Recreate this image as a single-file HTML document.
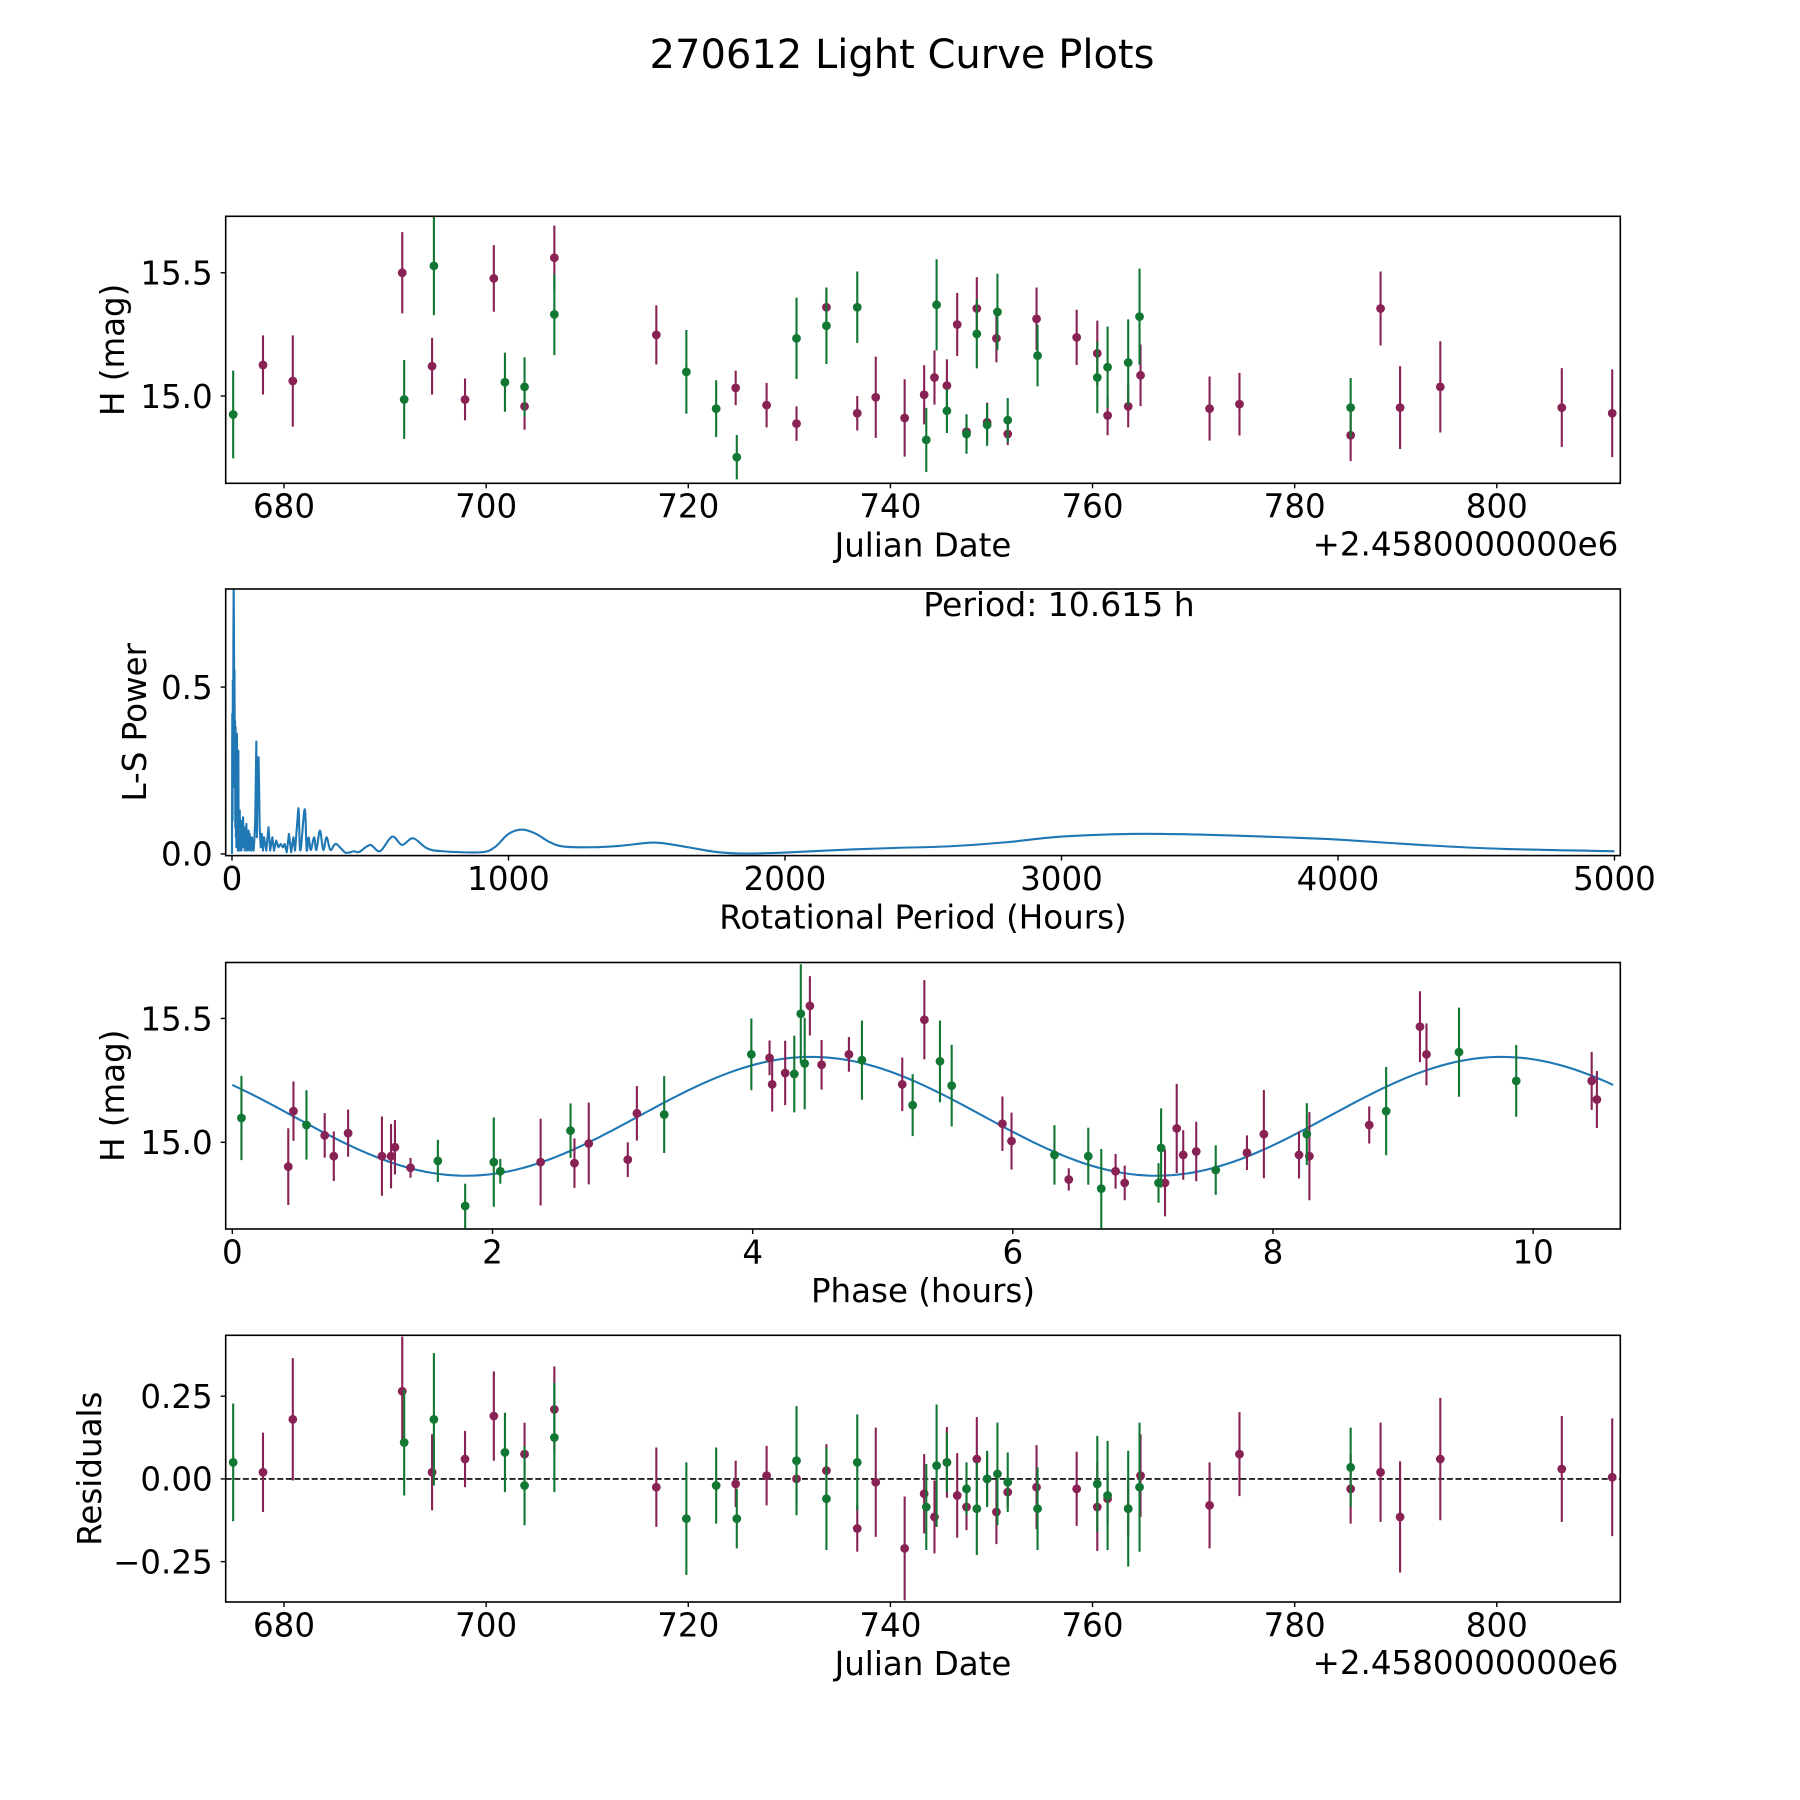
<!DOCTYPE html>
<html><head><meta charset="utf-8"><title>270612 Light Curve Plots</title>
<style>
html,body{margin:0;padding:0;background:#fff;}
svg{display:block;font-family:"DejaVu Sans","Liberation Sans",sans-serif;}
</style></head>
<body>
<svg id="fig" xmlns="http://www.w3.org/2000/svg" width="1800" height="1800" viewBox="0 0 1800 1800">
<rect x="0" y="0" width="1800" height="1800" fill="#fff"/>
<text x="902" y="68" font-size="40" text-anchor="middle">270612 Light Curve Plots</text>
</svg>
<script>
// ---- data: green (filter 1) observations ----
const gDate = [674.97,691.89,694.83,701.86,703.80,706.75,719.81,722.76,724.80,730.71,733.67,736.72,743.55,744.57,745.59,747.53,748.55,749.57,750.59,751.61,754.56,760.47,761.49,763.53,764.65,785.54];
const gMag  = [14.925,14.986,15.528,15.056,15.037,15.331,15.098,14.949,14.752,15.234,15.285,15.36,14.822,15.37,14.94,14.846,15.252,14.883,15.341,14.902,15.164,15.075,15.117,15.136,15.322,14.953];
const gErr  = [0.178,0.16,0.2,0.12,0.12,0.165,0.17,0.115,0.09,0.165,0.155,0.145,0.13,0.185,0.09,0.08,0.14,0.085,0.155,0.09,0.125,0.145,0.165,0.175,0.195,0.12];
const gRes  = [0.05,0.11,0.18,0.08,-0.02,0.125,-0.12,-0.02,-0.12,0.055,-0.06,0.05,-0.085,0.04,0.05,-0.03,-0.09,0.0,0.015,-0.01,-0.09,-0.015,-0.05,-0.09,-0.025,0.035];
// ---- data: purple (filter 2) observations ----
const pDate = [677.92,680.87,691.70,694.65,697.91,700.76,703.80,706.75,716.84,724.69,727.75,730.71,733.67,736.72,738.55,741.41,743.34,744.36,745.59,746.61,747.53,748.55,749.57,750.49,751.61,754.46,758.43,760.47,761.49,763.53,764.75,771.58,774.54,785.54,788.50,790.43,794.41,806.43,811.42];
const pMag  = [15.126,15.061,15.5,15.121,14.986,15.477,14.958,15.561,15.248,15.033,14.963,14.888,15.36,14.93,14.995,14.911,15.005,15.075,15.042,15.29,14.855,15.355,14.893,15.234,14.846,15.313,15.238,15.173,14.921,14.958,15.084,14.949,14.967,14.841,15.355,14.953,15.037,14.953,14.93];
const pErr  = [0.12,0.185,0.165,0.115,0.085,0.135,0.095,0.13,0.12,0.07,0.09,0.07,0.08,0.07,0.165,0.157,0.12,0.11,0.107,0.128,0.07,0.127,0.08,0.097,0.045,0.127,0.112,0.133,0.08,0.085,0.125,0.13,0.127,0.105,0.15,0.168,0.185,0.16,0.178];
const pRes  = [0.02,0.18,0.265,0.02,0.06,0.19,0.075,0.21,-0.025,-0.015,0.01,0.0,0.025,-0.15,-0.01,-0.21,-0.045,-0.115,0.05,-0.05,-0.085,0.06,0.0,-0.1,-0.04,-0.025,-0.03,-0.085,-0.06,-0.09,0.01,-0.08,0.075,-0.03,0.02,-0.115,0.06,0.03,0.005];
// ---- phase-folded data ----
const gPhase = [0.07,0.57,1.58,1.79,2.01,2.06,2.60,3.32,3.99,4.32,4.37,4.40,4.84,5.23,5.44,5.53,6.32,6.58,6.68,7.12,7.14,7.56,8.26,8.87,9.43,9.87];
const gPMag  = [15.098,15.07,14.925,14.743,14.92,14.883,15.047,15.112,15.355,15.276,15.519,15.318,15.332,15.15,15.327,15.229,14.949,14.944,14.813,14.836,14.977,14.888,15.033,15.126,15.364,15.248];
const gPErr  = [0.17,0.14,0.085,0.09,0.18,0.05,0.11,0.155,0.145,0.155,0.2,0.185,0.16,0.125,0.165,0.165,0.12,0.115,0.16,0.08,0.16,0.1,0.125,0.178,0.18,0.145];
const pPhase = [0.43,0.47,0.71,0.78,0.89,1.15,1.22,1.25,1.37,2.37,2.63,2.74,3.04,3.11,4.13,4.15,4.25,4.44,4.53,4.74,5.15,5.32,5.92,5.99,6.43,6.79,6.86,7.17,7.26,7.31,7.41,7.80,7.93,8.20,8.28,8.74,9.13,9.18,10.45,10.49];
const pPMag  = [14.902,15.126,15.028,14.944,15.037,14.944,14.944,14.98,14.897,14.92,14.916,14.995,14.93,15.117,15.341,15.234,15.28,15.551,15.313,15.355,15.234,15.495,15.075,15.005,14.85,14.883,14.836,14.836,15.056,14.949,14.963,14.958,15.033,14.949,14.944,15.07,15.467,15.355,15.248,15.173];
const pPErr  = [0.155,0.12,0.09,0.1,0.095,0.16,0.13,0.11,0.04,0.175,0.1,0.165,0.07,0.11,0.07,0.11,0.13,0.12,0.1,0.07,0.108,0.16,0.11,0.115,0.045,0.07,0.07,0.135,0.18,0.1,0.12,0.07,0.178,0.095,0.178,0.075,0.143,0.125,0.117,0.115];
// ---- fitted model (mean, amplitude, peak phase, harmonic period, full period) ----
const modelParams = [15.105,0.24,4.45,5.3075,10.615];
// ---- Lomb-Scargle periodogram ----
const lsPeriod = [0,1,2,3,4,5,6,7,8,9,10,11,12,13,14,15,16,17,18,19,20,21,22,23,24,25,27,28,30,32,34,36,38,40,42,44,46,48,50,52,54,56,58,60,62,64,66,68,70,72,74,76,78,80,84,86,88,90,92,96,98,100,104,108,112,116,124,132,138,146,152,160,168,176,184,190,198,206,214,222,228,240,247,263,270,277,285,297,305,318,330,342,356,376,410,440,460,500,535,579,615,655,705,760,900,950,1000,1050,1100,1150,1200,1300,1400,1500,1550,1650,1750,1850,2000,2200,2400,2600,2800,3000,3250,3500,3800,4000,4300,4600,5000];
const lsPower  = [0.0,0.42,0.1,0.52,0.2,0.65,0.8,0.68,0.45,0.55,0.3,0.4,0.08,0.38,0.05,0.22,0.02,0.14,0.36,0.05,0.14,0.01,0.12,0.31,0.03,0.1,0.01,0.13,0.03,0.1,0.01,0.07,0.02,0.11,0.03,0.08,0.01,0.06,0.02,0.09,0.01,0.05,0.02,0.07,0.01,0.06,0.02,0.04,0.01,0.05,0.02,0.04,0.01,0.03,0.1,0.22,0.337,0.05,0.2,0.29,0.2,0.08,0.02,0.06,0.01,0.05,0.01,0.08,0.01,0.05,0.01,0.04,0.02,0.03,0.02,0.03,0.005,0.06,0.005,0.05,0.01,0.137,0.01,0.134,0.012,0.05,0.012,0.05,0.012,0.07,0.012,0.05,0.012,0.03,0.004,0.008,0.006,0.027,0.008,0.052,0.027,0.047,0.017,0.008,0.005,0.02,0.06,0.073,0.06,0.035,0.022,0.02,0.024,0.033,0.033,0.02,0.006,0.001,0.004,0.012,0.018,0.023,0.035,0.052,0.06,0.058,0.05,0.043,0.027,0.015,0.008];
// ---- ticks ----
const dateTicks = [680,700,720,740,760,780,800];
const magTicks = [15.0,15.5];
const magTickLabels = ["15.0","15.5"];
const periodTicks = [0,1000,2000,3000,4000,5000];
const powerTicks = [0.0,0.5];
const powerTickLabels = ["0.0","0.5"];
const phaseTicks = [0,2,4,6,8,10];
const resTicks = [-0.25,0,0.25];
const resTickLabels = ["\u22120.25","0.00","0.25"];

const NS = "http://www.w3.org/2000/svg";
const svg = document.getElementById('fig');
const GREEN = "#117733", PURPLE = "#882255", BLUE = "#1f77b4";
const FS = 32.5;
function mk(tag, attrs, parent){const e=document.createElementNS(NS,tag);for(const k in attrs)e.setAttribute(k,attrs[k]);(parent||svg).appendChild(e);return e;}
function scale(d0,d1,r0,r1){return v=>r0+(v-d0)/(d1-d0)*(r1-r0);}

const L=225.7, R=1620.3;
const panels=[
 {top:216.3,bot:483.3},{top:589,bot:855.6},{top:962.5,bot:1229},{top:1335.3,bot:1602}
];

function axes(idx, xdom, ydom, name){
  const p=panels[idx];
  const sx=scale(xdom[0],xdom[1],L,R), sy=scale(ydom[0],ydom[1],p.bot,p.top);
  const g=mk('g',{});
  
  
  const cid='clip'+idx;
  const cp=mk('clipPath',{id:cid},g);
  mk('rect',{x:L,y:p.top,width:R-L,height:p.bot-p.top},cp);
  const plot=mk('g',{'clip-path':'url(#'+cid+')'},g);
  
  
  return {g,plot,sx,sy,p};
}
function frame(ax){
  const r=mk('rect',{x:L,y:ax.p.top,width:R-L,height:ax.p.bot-ax.p.top,fill:'none',stroke:'#000','stroke-width':1.6},ax.g);
  
  
}
function xticks(ax, ticks, labels){
  ticks.forEach((t,i)=>{
    const x=ax.sx(t);
    mk('line',{x1:x,x2:x,y1:ax.p.bot,y2:ax.p.bot+5,stroke:'#000','stroke-width':1.4},ax.g);
    const tx=mk('text',{x:x,y:ax.p.bot+34.4,'font-size':FS,'text-anchor':'middle'},ax.g);
    tx.textContent=labels?labels[i]:String(t);
    
    
  });
}
function yticks(ax, ticks, labels){
  ticks.forEach((t,i)=>{
    const y=ax.sy(t);
    mk('line',{x1:L-5,x2:L,y1:y,y2:y,stroke:'#000','stroke-width':1.4},ax.g);
    const tx=mk('text',{x:L-13,y:y+11.8,'font-size':FS,'text-anchor':'end'},ax.g);
    tx.textContent=labels[i];
    
    
  });
}
function xlabel(ax, txt){
  const t=mk('text',{x:(L+R)/2,y:ax.p.bot+73,'font-size':FS,'text-anchor':'middle'},ax.g);
  t.textContent=txt;
  
  
}
function offsetText(ax){
  const t=mk('text',{x:R-2,y:ax.p.bot+72,'font-size':FS,'text-anchor':'end'},ax.g);
  t.textContent='+2.4580000000e6';
  
  
}
function ylabel(ax, txt, bx){
  const cy=(ax.p.top+ax.p.bot)/2;
  const t=mk('text',{x:bx,y:cy,'font-size':FS,'text-anchor':'middle',transform:'rotate(-90 '+bx+' '+cy+')'},ax.g);
  t.textContent=txt;
  
  
}
function errPoints(ax, xs, ys, es, color, name){
  const g=mk('g',{},ax.plot);
  
  
  xs.forEach((xv,i)=>{
    const x=ax.sx(xv);
    const l=mk('line',{x1:x,x2:x,y1:ax.sy(ys[i]-es[i]),y2:ax.sy(ys[i]+es[i]),stroke:color,'stroke-width':2.1},g);
    
    
    const c=mk('circle',{cx:x,cy:ax.sy(ys[i]),r:4.4,fill:color},g);
    
    
  });
}

// Panel 1: light curve
const a1=axes(0,[674.23,812.22],[14.646,15.729],'light-curve-panel');
errPoints(a1,pDate,pMag,pErr,PURPLE,'purple-series');
errPoints(a1,gDate,gMag,gErr,GREEN,'green-series');
frame(a1); xticks(a1,dateTicks); yticks(a1,magTicks,magTickLabels);
xlabel(a1,'Julian Date'); offsetText(a1); ylabel(a1,'H (mag)',124);

// Panel 2: periodogram (linear through dense part, Catmull-Rom for smooth part)
const a2=axes(1,[-22.8,5021],[-0.005,0.794],'periodogram-panel');
const P=lsPeriod.map((v,i)=>[a2.sx(v),a2.sy(lsPower[i])]);
let d='M'+P[0][0].toFixed(2)+' '+P[0][1].toFixed(2);
for(let i=1;i<P.length;i++){
  if(lsPeriod[i]<=240){d+='L'+P[i][0].toFixed(2)+' '+P[i][1].toFixed(2);continue;}
  const p0=P[i-2]||P[i-1],p1=P[i-1],p2=P[i],p3=P[i+1]||P[i];
  const c1=[p1[0]+(p2[0]-p0[0])/6,p1[1]+(p2[1]-p0[1])/6];
  const c2=[p2[0]-(p3[0]-p1[0])/6,p2[1]-(p3[1]-p1[1])/6];
  d+='C'+c1[0].toFixed(2)+' '+c1[1].toFixed(2)+' '+c2[0].toFixed(2)+' '+c2[1].toFixed(2)+' '+p2[0].toFixed(2)+' '+p2[1].toFixed(2);
}
const ln=mk('path',{d:d,fill:'none',stroke:BLUE,'stroke-width':2.1,'stroke-linejoin':'round'},a2.plot);


frame(a2); xticks(a2,periodTicks); yticks(a2,powerTicks,powerTickLabels);
xlabel(a2,'Rotational Period (Hours)'); ylabel(a2,'L-S Power',146);
const pt=mk('text',{x:1059,y:616,'font-size':33,'text-anchor':'middle'},a2.g);
pt.textContent='Period: 10.615 h';



// Panel 3: phase folded
const a3=axes(2,[-0.051,10.67],[14.65,15.726],'phase-panel');
let md='';
const N=200;
for(let i=0;i<=N;i++){
  const ph=modelParams[4]*i/N;
  const y=modelParams[0]+modelParams[1]*Math.cos(2*Math.PI*(ph-modelParams[2])/modelParams[3]);
  md+=(i?'L':'M')+a3.sx(ph).toFixed(2)+' '+a3.sy(y).toFixed(2);
}
const ml=mk('path',{d:md,fill:'none',stroke:BLUE,'stroke-width':2.1},a3.plot);


errPoints(a3,pPhase,pPMag,pPErr,PURPLE,'purple-phase-series');
errPoints(a3,gPhase,gPMag,gPErr,GREEN,'green-phase-series');
frame(a3); xticks(a3,phaseTicks); yticks(a3,magTicks,magTickLabels);
xlabel(a3,'Phase (hours)'); ylabel(a3,'H (mag)',124);

// Panel 4: residuals
const a4=axes(3,[674.23,812.22],[-0.372,0.434],'residuals-panel');
const zl=mk('line',{x1:L,x2:R,y1:a4.sy(0),y2:a4.sy(0),stroke:'#000','stroke-width':1.6,'stroke-dasharray':'6 2.6'},a4.plot);


errPoints(a4,pDate,pRes,pErr,PURPLE,'purple-residuals');
errPoints(a4,gDate,gRes,gErr,GREEN,'green-residuals');
frame(a4); xticks(a4,dateTicks); yticks(a4,resTicks,resTickLabels);
xlabel(a4,'Julian Date'); offsetText(a4); ylabel(a4,'Residuals',101);
</script>
</body></html>
